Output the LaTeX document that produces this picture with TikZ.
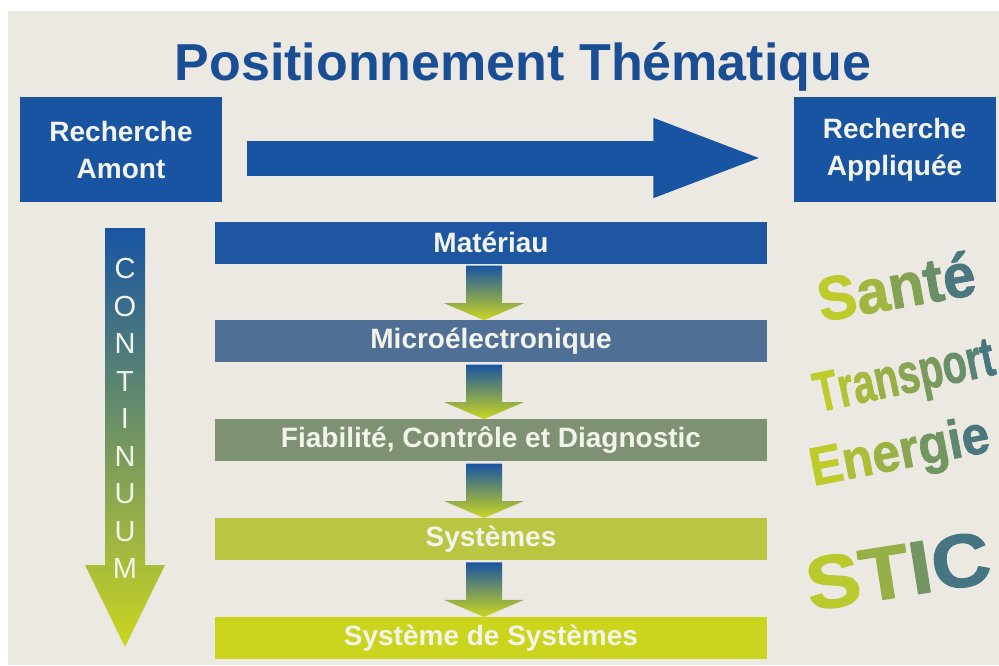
\documentclass[tikz,border=0pt]{standalone}
\usepackage{fontspec}
\setmainfont{Liberation Sans}
\newfontfamily\motfont[FakeBold=1.5]{Liberation Sans Bold}
\usetikzlibrary{arrows.meta,positioning}

\definecolor{fond}{RGB}{236,233,226}
\definecolor{bleu}{RGB}{24,84,162}
\definecolor{titre}{RGB}{26,78,148}
\definecolor{vert}{RGB}{204,214,32}
\definecolor{clair}{RGB}{242,244,234}
\definecolor{barA}{RGB}{30,86,162}
\definecolor{barB}{RGB}{80,111,148}
\definecolor{barC}{RGB}{126,145,114}
\definecolor{barD}{RGB}{186,197,66}
\definecolor{barE}{RGB}{203,213,30}

\begin{document}
\begin{tikzpicture}[x=1pt, y=-1pt, line join=round]
	\tikzset{boite/.style={fill=bleu, text=clair, font=\bfseries\fontsize{28}{37}\selectfont, align=center, minimum width=202pt, minimum height=105pt, inner sep=0pt},
		barre/.style={text=clair, font=\bfseries\fontsize{28}{28}\selectfont, minimum width=552pt, minimum height=42pt, inner sep=0pt},
		degrade/.style={top color=bleu, bottom color=vert},
		lettre/.style={text=clair, font=\fontsize{29}{29}\selectfont, inner sep=0pt, anchor=base},
		mot/.style={inner sep=0pt, font=\motfont\fontsize{#1}{#1}\selectfont}}
	\useasboundingbox (0,0) rectangle (999,665);
	\fill[white] (0,0) rectangle (999,665);
	\fill[fond] (8,11) rectangle (999,665);
	\node[text=titre, font=\bfseries\fontsize{52}{52}\selectfont, anchor=base] (titre) at (523,80) {Positionnement Thématique};
	\node[boite] (amont) at (121,149.5) {Recherche\\Amont};
	\node[boite] (appli) at (894.5,149.5) {Recherche\\Appliquée};
	\draw[bleu, line width=35pt, -{Triangle[length=114pt, width=70pt]}] ([xshift=25pt, yshift=-8.5pt]amont.east) -- ([xshift=-26pt, yshift=-8.5pt]appli.west);
	% continuum
	\shade[degrade] (105,228) -- (145,228) -- (145,565) -- (165,565) -- (125,647) -- (85,565) -- (105,565) -- cycle;
	\foreach \l [count=\i] in {C,O,N,T,I,N,U,U,M}
		\node[lettre] (c\i) at (125,{278.5+37.5*(\i-1)}) {\l};
	% bars
	\node[barre, fill=barA] (mat) at (491,242.5) {Matériau};
	\node[barre, fill=barB, below=56.5pt of mat] (micro) {Microélectronique};
	\node[barre, fill=barC, below=56.5pt of micro] (fiab) {Fiabilité, Contrôle et Diagnostic};
	\node[barre, fill=barD, below=56.5pt of fiab] (sys) {Systèmes};
	\node[barre, fill=barE, below=56.5pt of sys] (sds) {Système de Systèmes};
	\foreach \a/\b in {mat/micro, micro/fiab, fiab/sys, sys/sds}
		\shade[degrade] ([xshift=-25pt, yshift=-2pt]\a.south) -- ([xshift=11pt, yshift=-2pt]\a.south) -- ([xshift=11pt, yshift=17pt]\b.north) -- ([xshift=33pt, yshift=17pt]\b.north) -- ([xshift=-7pt]\b.north) -- ([xshift=-47pt, yshift=17pt]\b.north) -- ([xshift=-25pt, yshift=17pt]\b.north) -- cycle;
	% words, one colour per letter
	\node[mot=44, rotate=10, xscale=1.33, yscale=1.4] (sante) at (896,286) {\color{bleu!8!vert}S\color{bleu!25!vert}a\color{bleu!40!vert}n\color{bleu!55!vert}t\color{bleu!72!vert}é};
	\node[mot=40, rotate=12, xscale=0.98, yscale=1.4] (transport) at (905,380) {\color{bleu!8!vert}T\color{bleu!15!vert}r\color{bleu!22!vert}a\color{bleu!30!vert}n\color{bleu!38!vert}s\color{bleu!46!vert}p\color{bleu!55!vert}o\color{bleu!64!vert}r\color{bleu!74!vert}t};
	\node[mot=40, rotate=11, xscale=1.24, yscale=1.35] (energie) at (900,455) {\color{bleu!8!vert}E\color{bleu!18!vert}n\color{bleu!28!vert}e\color{bleu!38!vert}r\color{bleu!50!vert}g\color{bleu!60!vert}i\color{bleu!72!vert}e};
	\node[mot=50, rotate=9, xscale=1.63, yscale=1.5] (stic) at (898,571) {\color{bleu!10!vert}S\color{bleu!30!vert}T\color{bleu!50!vert}I\color{bleu!75!vert}C};
\end{tikzpicture}
\end{document}
